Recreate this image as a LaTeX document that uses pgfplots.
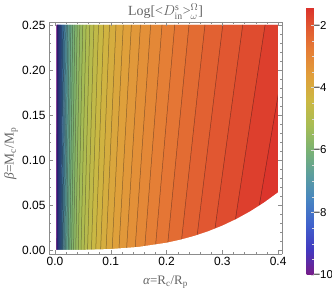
\documentclass[border=0pt]{standalone}
\usepackage{fontspec}
\setmainfont{Liberation Serif}
\newfontfamily\tickfont{Liberation Sans}
\usepackage{pgfplots}
\usepackage{pgfplotstable}
\pgfplotsset{compat=1.18}
\definecolor{lab}{RGB}{100,100,100}
\definecolor{fr}{RGB}{140,140,140}
\pgfplotsset{colormap={mma}{
 rgb(0bp)=(0.47,0.11,0.53);
 rgb(25bp)=(0.26,0.22,0.75);
 rgb(50bp)=(0.25,0.38,0.80);
 rgb(75bp)=(0.28,0.52,0.76);
 rgb(100bp)=(0.36,0.62,0.62);
 rgb(125bp)=(0.48,0.70,0.45);
 rgb(150bp)=(0.66,0.74,0.33);
 rgb(175bp)=(0.80,0.72,0.26);
 rgb(200bp)=(0.88,0.62,0.23);
 rgb(225bp)=(0.90,0.49,0.21);
 rgb(250bp)=(0.88,0.33,0.19);
 rgb(268bp)=(0.86,0.19,0.17)}}
% contour field: columns follow the contour lines (beta=0 row, then beta=0.25 row)
\pgfplotstableread{
x y z
0.0030 0 -10
0.00314 0 -9.9575
0.00351 0 -9.7575
0.00393 0 -9.5575
0.00440 0 -9.3575
0.00492 0 -9.1575
0.00551 0 -8.9575
0.00616 0 -8.7575
0.00689 0 -8.5575
0.00771 0 -8.3575
0.00863 0 -8.1575
0.00966 0 -7.9575
0.01081 0 -7.7575
0.01209 0 -7.5575
0.01353 0 -7.3575
0.01514 0 -7.1575
0.01694 0 -6.9575
0.01896 0 -6.7575
0.02122 0 -6.5575
0.02374 0 -6.3575
0.02657 0 -6.1575
0.02973 0 -5.9575
0.03327 0 -5.7575
0.03722 0 -5.5575
0.04165 0 -5.3575
0.04661 0 -5.1575
0.05216 0 -4.9575
0.05836 0 -4.7575
0.06531 0 -4.5575
0.07308 0 -4.3575
0.08178 0 -4.1575
0.09151 0 -3.9575
0.10240 0 -3.7575
0.11458 0 -3.5575
0.12822 0 -3.3575
0.14348 0 -3.1575
0.16055 0 -2.9575
0.17965 0 -2.7575
0.20103 0 -2.5575
0.22496 0 -2.3575
0.25172 0 -2.1575
0.28168 0 -1.9575
0.31520 0 -1.7575
0.35271 0 -1.5575
0.50 0 -1.42
0.0030 0.25 -10
0.00375 0.25 -9.9575
0.00419 0.25 -9.7575
0.00470 0.25 -9.5575
0.00526 0.25 -9.3575
0.00588 0.25 -9.1575
0.00658 0.25 -8.9575
0.00736 0.25 -8.7575
0.00823 0.25 -8.5575
0.00921 0.25 -8.3575
0.01031 0.25 -8.1575
0.01154 0.25 -7.9575
0.01292 0.25 -7.7575
0.01445 0.25 -7.5575
0.01617 0.25 -7.3575
0.01809 0.25 -7.1575
0.02024 0.25 -6.9575
0.02266 0.25 -6.7575
0.02536 0.25 -6.5575
0.02837 0.25 -6.3575
0.03175 0.25 -6.1575
0.03553 0.25 -5.9575
0.03976 0.25 -5.7575
0.04448 0.25 -5.5575
0.04977 0.25 -5.3575
0.05570 0.25 -5.1575
0.06233 0.25 -4.9575
0.06974 0.25 -4.7575
0.07805 0.25 -4.5575
0.08733 0.25 -4.3575
0.09773 0.25 -4.1575
0.10935 0.25 -3.9575
0.12237 0.25 -3.7575
0.13692 0.25 -3.5575
0.15322 0.25 -3.3575
0.17146 0.25 -3.1575
0.19186 0.25 -2.9575
0.21468 0.25 -2.7575
0.24023 0.25 -2.5575
0.26883 0.25 -2.3575
0.30081 0.25 -2.1575
0.33661 0.25 -1.9575
0.37666 0.25 -1.7575
0.42149 0.25 -1.5575
0.50 0.25 -1.42
}\fieldtable
% contour lines
\pgfplotstableread{
x y z
0.00351 0 0
0.00419 0.25 0
nan nan nan
0.00393 0 0
0.00470 0.25 0
nan nan nan
0.00440 0 0
0.00526 0.25 0
nan nan nan
0.00492 0 0
0.00588 0.25 0
nan nan nan
0.00551 0 0
0.00658 0.25 0
nan nan nan
0.00616 0 0
0.00736 0.25 0
nan nan nan
0.00689 0 0
0.00823 0.25 0
nan nan nan
0.00771 0 0
0.00921 0.25 0
nan nan nan
0.00863 0 0
0.01031 0.25 0
nan nan nan
0.00966 0 0
0.01154 0.25 0
nan nan nan
0.01081 0 0
0.01292 0.25 0
nan nan nan
0.01209 0 0
0.01445 0.25 0
nan nan nan
0.01353 0 0
0.01617 0.25 0
nan nan nan
0.01514 0 0
0.01809 0.25 0
nan nan nan
0.01694 0 0
0.02024 0.25 0
nan nan nan
0.01896 0 0
0.02266 0.25 0
nan nan nan
0.02122 0 0
0.02536 0.25 0
nan nan nan
0.02374 0 0
0.02837 0.25 0
nan nan nan
0.02657 0 0
0.03175 0.25 0
nan nan nan
0.02973 0 0
0.03553 0.25 0
nan nan nan
0.03327 0 0
0.03976 0.25 0
nan nan nan
0.03722 0 0
0.04448 0.25 0
nan nan nan
0.04165 0 0
0.04977 0.25 0
nan nan nan
0.04661 0 0
0.05570 0.25 0
nan nan nan
0.05216 0 0
0.06233 0.25 0
nan nan nan
0.05836 0 0
0.06974 0.25 0
nan nan nan
0.06531 0 0
0.07805 0.25 0
nan nan nan
0.07308 0 0
0.08733 0.25 0
nan nan nan
0.08178 0 0
0.09773 0.25 0
nan nan nan
0.09151 0 0
0.10935 0.25 0
nan nan nan
0.10240 0 0
0.12237 0.25 0
nan nan nan
0.11458 0 0
0.13692 0.25 0
nan nan nan
0.12822 0 0
0.15322 0.25 0
nan nan nan
0.14348 0 0
0.17146 0.25 0
nan nan nan
0.16055 0 0
0.19186 0.25 0
nan nan nan
0.17965 0 0
0.21468 0.25 0
nan nan nan
0.20103 0 0
0.24023 0.25 0
nan nan nan
0.22496 0 0
0.26883 0.25 0
nan nan nan
0.25172 0 0
0.30081 0.25 0
nan nan nan
0.28168 0 0
0.33661 0.25 0
nan nan nan
0.31520 0 0
0.37666 0.25 0
nan nan nan
0.35271 0 0
0.42149 0.25 0
}\linestable
\begin{document}
\begin{tikzpicture}
\useasboundingbox (-49bp,-37bp) rectangle (283bp,254bp);
\begin{axis}[name=main, at={(0,0)}, anchor=south west,
  scale only axis, width=233bp, height=232bp,
  view={0}{90},
  xmin=-0.0108, xmax=0.407, ymin=-0.0045, ymax=0.2533,
  axis on top,
  colormap name=mma,
  point meta min=-10, point meta max=-1.42,
  xtick={0,0.1,0.2,0.3,0.4}, xticklabels={0.0,0.1,0.2,0.3,0.4},
  ytick={0,0.05,0.1,0.15,0.2,0.25}, yticklabels={0.00,0.05,0.10,0.15,0.20,0.25},
  minor x tick num=4, minor y tick num=4,
  xtick pos=both, ytick pos=both,
  tick align=inside,
  major tick length=4bp, minor tick length=2.2bp,
  axis line style={fr, line width=0.5bp},
  every tick/.append style={fr, line width=0.4bp},
  tick label style={font=\tickfont\fontsize{12}{13}\selectfont, black},
  colorbar,
  colorbar style={at={(parent axis.north east)}, anchor=north west,
    xshift=16bp, yshift=15bp, width=7bp, height=268bp, scale only axis,
    ytick={-10,-8,-6,-4,-2}, yticklabels={−10,−8,−6,−4,−2},
    minor y tick num=3, ytick pos=right, yticklabel pos=right, tick align=inside,
    major tick length=2.5bp, minor tick length=1.5bp,
    axis line style={draw=none},
    every tick/.append style={white!70!gray, line width=0.4bp},
    yticklabel shift=-3.5bp,
    tick label style={font=\tickfont\fontsize{11.5}{13}\selectfont, black}},
]
\addplot3[surf, shader=flat mean, mesh/cols=45] table[x=x, y=y, z=z] {\fieldtable};
\addplot3[draw=black, opacity=0.4, line width=0.5bp, unbounded coords=jump] table[x=x, y=y, z=z] {\linestable};
\addplot3[fill=white, draw=none] coordinates {(0,-0.01,0) (0,0,0) (0.05,0.000125,0) (0.1,0.001,0) (0.15,0.003375,0) (0.2,0.008,0) (0.225,0.011391,0) (0.25,0.015625,0) (0.275,0.020797,0) (0.3,0.027,0) (0.325,0.034328,0) (0.35,0.042875,0) (0.375,0.052734,0) (0.4,0.064,0) (0.4,0.27,0) (0.43,0.27,0) (0.43,-0.01,0)} \closedcycle;
\end{axis}
\node[lab, font=\fontsize{14}{16}\selectfont] at (116.5bp,242.5bp) {Log[<$D^{\mathrm{s}}_{\mathrm{in}}$>$^{\Omega}_{\omega}$]};
\node[lab, font=\fontsize{13}{15}\selectfont] at (116.5bp,-28bp) {\textit{α}=R\textsubscript{c}/R\textsubscript{p}};
\node[lab, font=\fontsize{13.5}{15}\selectfont, rotate=90, anchor=west] at (-38bp,71bp) {\textit{β}=M\textsubscript{c}/M\textsubscript{p}};
\end{tikzpicture}
\end{document}
